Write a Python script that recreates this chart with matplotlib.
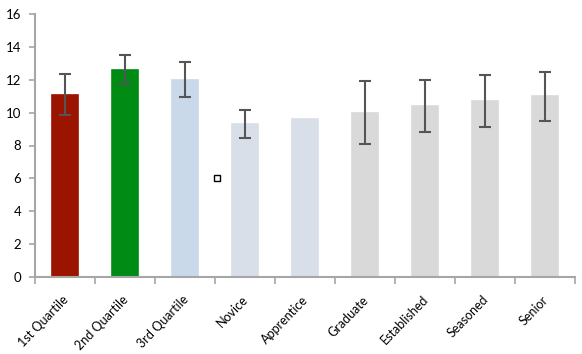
import matplotlib
matplotlib.use("Agg")
import numpy as np
import matplotlib.pyplot as plt
import matplotlib.transforms as mtransforms

plt.rcParams['font.family'] = ['Lato', 'DejaVu Sans']

categories = ["1st Quartile", "2nd Quartile", "3rd Quartile", "Novice", "Apprentice",
              "Graduate", "Established", "Seasoned", "Senior"]
values = [11.1, 12.6, 12.0, 9.3, 9.6, 10.0, 10.4, 10.7, 11.0]
errors = [1.25, 0.88, 1.07, 0.84, 0.0, 1.9, 1.6, 1.6, 1.5]
colors = ["#9a1400", "#008c14", "#c9d9e9", "#d9dfe8", "#d9dfe8",
          "#d9d9d9", "#d9d9d9", "#d9d9d9", "#d9d9d9"]
yticks = [0, 2, 4, 6, 8, 10, 12, 14, 16]
# stray selected-point marker seen in the original
marker_x = [2.53]
marker_y = [6.0]

fig = plt.figure(figsize=(5.82, 3.54), dpi=100)
ax = fig.add_axes([35/582, 77/354, 540/582, 263/354])

x = np.arange(len(categories))
ax.bar(x, values, width=0.43, color=colors, edgecolor=colors, linewidth=1.2, zorder=2)
has_err = [i for i, e in enumerate(errors) if e > 0]
ax.errorbar(x[has_err], [values[i] for i in has_err], yerr=[errors[i] for i in has_err],
            fmt='none', ecolor="#555555", elinewidth=1.5, capsize=4, capthick=1.5, zorder=3)
ax.plot(marker_x, marker_y, marker='s', markersize=4.5, markerfacecolor='white',
        markeredgecolor='black', markeredgewidth=1.0, linestyle='none', zorder=4)

ax.set_xlim(-0.5, len(categories) - 0.5)
ax.set_ylim(0, 16)
ax.set_yticks(yticks)
ax.set_yticklabels([str(t) for t in yticks], fontsize=9.5)
ax.tick_params(axis='y', length=4, width=1.2, color="#a6a6a6", pad=6)

ax.set_xticks(x)
ax.set_xticklabels(categories, rotation=46, ha='right', rotation_mode='anchor', fontsize=9)
ax.tick_params(axis='x', which='major', length=0, pad=12)
shift = mtransforms.ScaledTranslation(-3/100, 0, fig.dpi_scale_trans)
for lbl in ax.get_xticklabels():
    lbl.set_transform(lbl.get_transform() + shift)
ax.set_xticks(np.arange(-0.5, len(categories)), minor=True)
ax.tick_params(axis='x', which='minor', length=5, width=1.2, color="#a6a6a6")

for side in ['top', 'right']:
    ax.spines[side].set_visible(False)
for side in ['left', 'bottom']:
    ax.spines[side].set_color("#a6a6a6")
    ax.spines[side].set_linewidth(1.5)

fig.savefig("out.png", dpi=100)
